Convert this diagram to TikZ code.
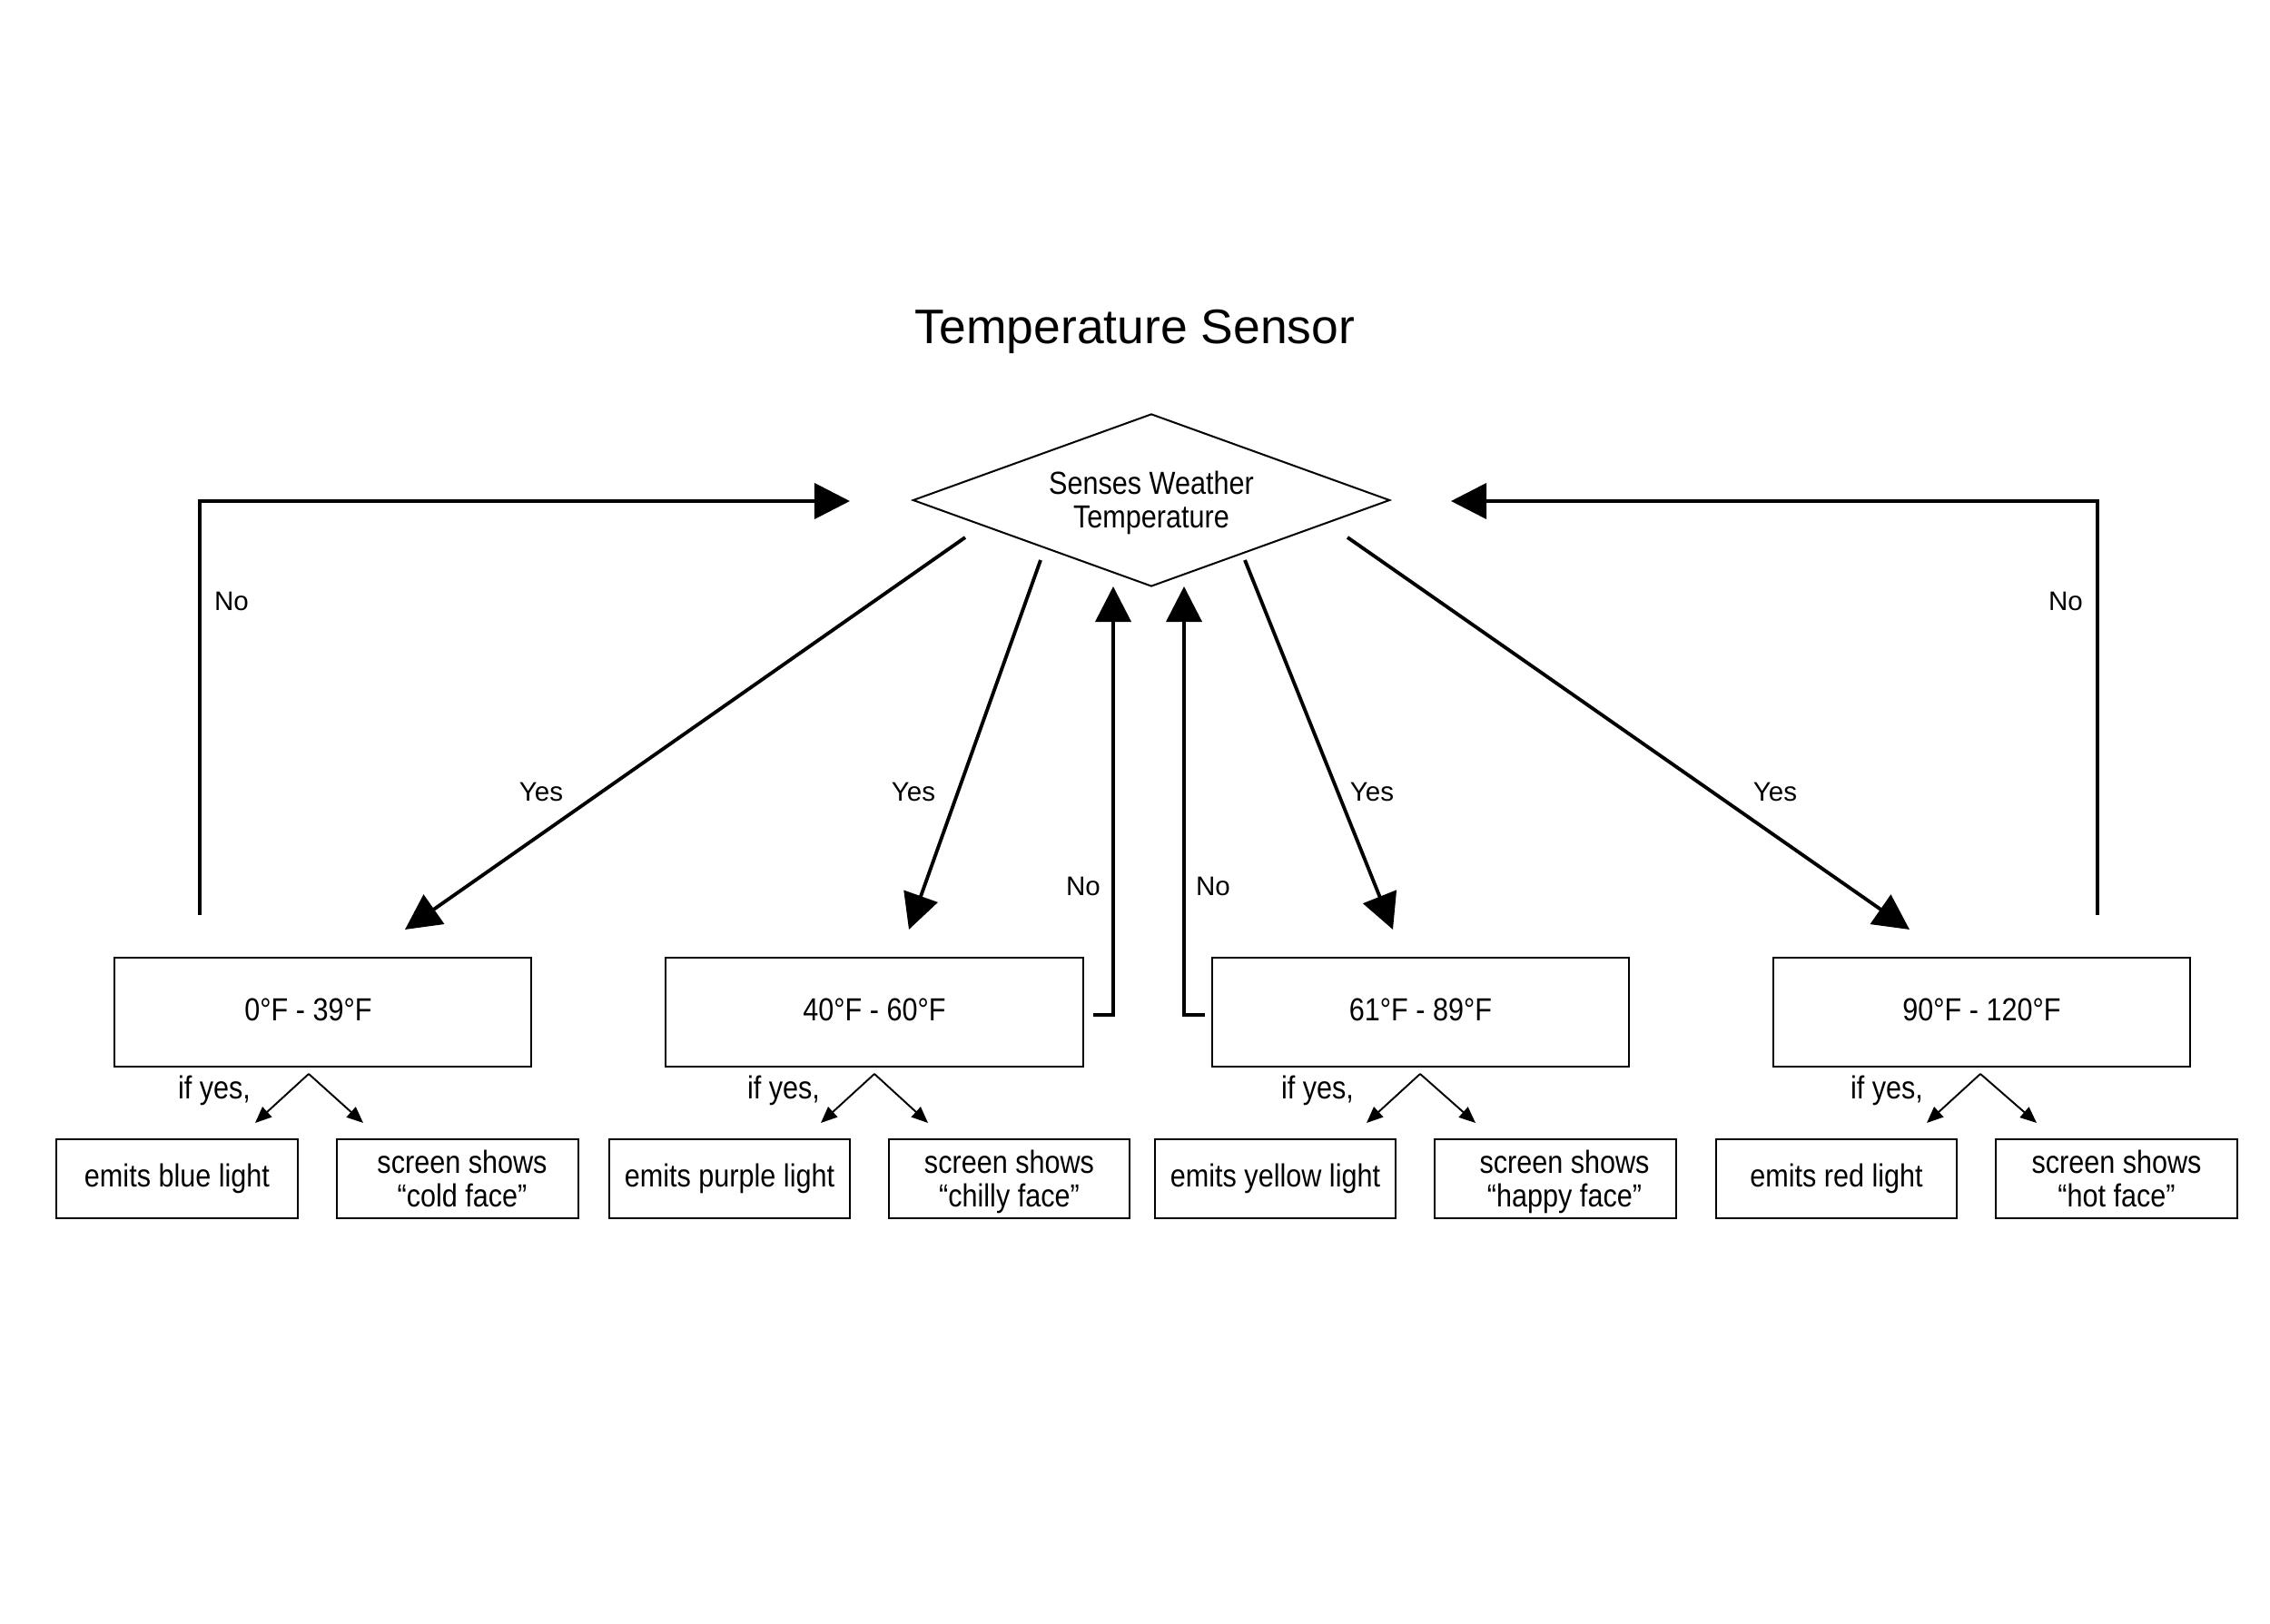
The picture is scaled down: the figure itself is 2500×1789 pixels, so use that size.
\documentclass[tikz,border=0pt]{standalone}
\usepackage{fontspec}
\setmainfont{Liberation Sans}
\newfontfamily\nf[FakeStretch=0.87]{Liberation Sans}
\usetikzlibrary{arrows.meta,shapes.geometric}
\newcommand{\upby}[1]{\raisebox{0.3mm}[\height][\depth]{#1}}
\begin{document}
\begin{tikzpicture}[x=0.01cm,y=-0.01cm,
  boxfont/.style={font=\nf\fontsize{10}{10.4}\selectfont},
  rangebox/.style={draw, line width=0.57pt, minimum width=4.59cm, minimum height=1.2cm, inner sep=0pt, boxfont},
  actbox/.style={draw, line width=0.57pt, minimum width=2.65cm, minimum height=0.87cm, inner sep=0pt, align=center, boxfont},
  decision/.style={draw, shape=diamond, line width=0.57pt, aspect=2.76, minimum width=5.25cm, minimum height=1.9cm, inner sep=0pt},
  dectext/.style={align=center, inner sep=0pt, boxfont},
  bigarrow/.style={line width=1.1pt, -{Triangle[length=3.9mm,width=3.9mm]}},
  smallarrow/.style={line width=0.55pt, -{Triangle[length=1.8mm,width=1.5mm]}},
  lbl/.style={font=\fontsize{8.4}{10}\selectfont, inner sep=0pt},
  iflbl/.style={boxfont, inner sep=0pt}
]
\fill[white] (0,0) rectangle (2500,1789);
\useasboundingbox (0,0) rectangle (2500,1789);

% title
\node[font=\fontsize{15.2}{18}\selectfont, inner sep=0pt] (title) at (1250,365) {Temperature Sensor};

% decision
\node[decision] (dec) at (1268,551) {};
\node[dectext] (dect) at (1268,554) {Senses Weather\\Temperature};

% range boxes
\node[rangebox] (r1) at (355.5,1115) {\upby{0°F - 39°F}\hspace*{3.2mm}};
\node[rangebox] (r2) at (963,1115) {\upby{40°F - 60°F}};
\node[rangebox] (r3) at (1564.5,1115) {\upby{61°F - 89°F}};
\node[rangebox] (r4) at (2182.5,1115) {\upby{90°F - 120°F}};

% action boxes
\node[actbox] (e1) at (195,1298.5) {emits blue light};
\node[actbox] (s1) at (504,1298.5) {\hspace*{1mm}screen shows\\\hspace*{1mm}\smash{“cold face”}};
\node[actbox] (e2) at (803.5,1298.5) {emits purple light};
\node[actbox] (s2) at (1111.5,1298.5) {screen shows\\\smash{“chilly face”}};
\node[actbox] (e3) at (1404.5,1298.5) {emits yellow light};
\node[actbox] (s3) at (1713,1298.5) {\hspace*{2mm}screen shows\\\hspace*{2mm}\smash{“happy face”}};
\node[actbox] (e4) at (2022.5,1298.5) {emits red light};
\node[actbox] (s4) at (2331,1298.5) {screen shows\\\smash{“hot face”}};

% yes arrows
\coordinate (y1s) at (1063,592);  \coordinate (y1e) at (446,1024);
\coordinate (y2s) at (1146,617);  \coordinate (y2e) at (1001,1024);
\coordinate (y3s) at (1371,617);  \coordinate (y3e) at (1534,1024);
\coordinate (y4s) at (1484,592);  \coordinate (y4e) at (2103,1024);
\draw[bigarrow] (y1s) -- (y1e);
\draw[bigarrow] (y2s) -- (y2e);
\draw[bigarrow] (y3s) -- (y3e);
\draw[bigarrow] (y4s) -- (y4e);
\node[lbl] (ly1) at (596,872) {Yes};
\node[lbl] (ly2) at (1006,872) {Yes};
\node[lbl] (ly3) at (1511,872) {Yes};
\node[lbl] (ly4) at (1955,872) {Yes};

% no arrows
\coordinate (n1s) at (220,1008); \coordinate (n1e) at (936,552);
\coordinate (n4s) at (2310,1008); \coordinate (n4e) at (1598,552);
\coordinate (n2s) at (1204,1118); \coordinate (n2e) at (1226,646);
\coordinate (n3s) at (1327,1118); \coordinate (n3e) at (1304,646);
\draw[bigarrow] (n1s) |- (n1e);
\draw[bigarrow] (n4s) |- (n4e);
\draw[bigarrow] (n2s) -| (n2e);
\draw[bigarrow] (n3s) -| (n3e);
\node[lbl] (ln1) at (255,662) {No};
\node[lbl] (ln4) at (2275,662) {No};
\node[lbl] (ln2) at (1193,976) {No};
\node[lbl] (ln3) at (1336,976) {No};

% if yes branches
\coordinate (a1) at (340,1183);  \coordinate (a1l) at (281,1237); \coordinate (a1r) at (400,1237);
\coordinate (a2) at (963,1183);  \coordinate (a2l) at (904,1237); \coordinate (a2r) at (1022,1237);
\coordinate (a3) at (1564,1183); \coordinate (a3l) at (1505,1237); \coordinate (a3r) at (1625,1237);
\coordinate (a4) at (2181,1183); \coordinate (a4l) at (2122,1237); \coordinate (a4r) at (2243,1237);
\foreach \i in {1,2,3,4}{
  \draw[smallarrow] (a\i) -- (a\i l);
  \draw[smallarrow] (a\i) -- (a\i r);
}
\node[iflbl] (i1) at (236,1201) {if yes,};
\node[iflbl] (i2) at (863,1201) {if yes,};
\node[iflbl] (i3) at (1451,1201) {if yes,};
\node[iflbl] (i4) at (2078,1201) {if yes,};
\end{tikzpicture}
\end{document}
